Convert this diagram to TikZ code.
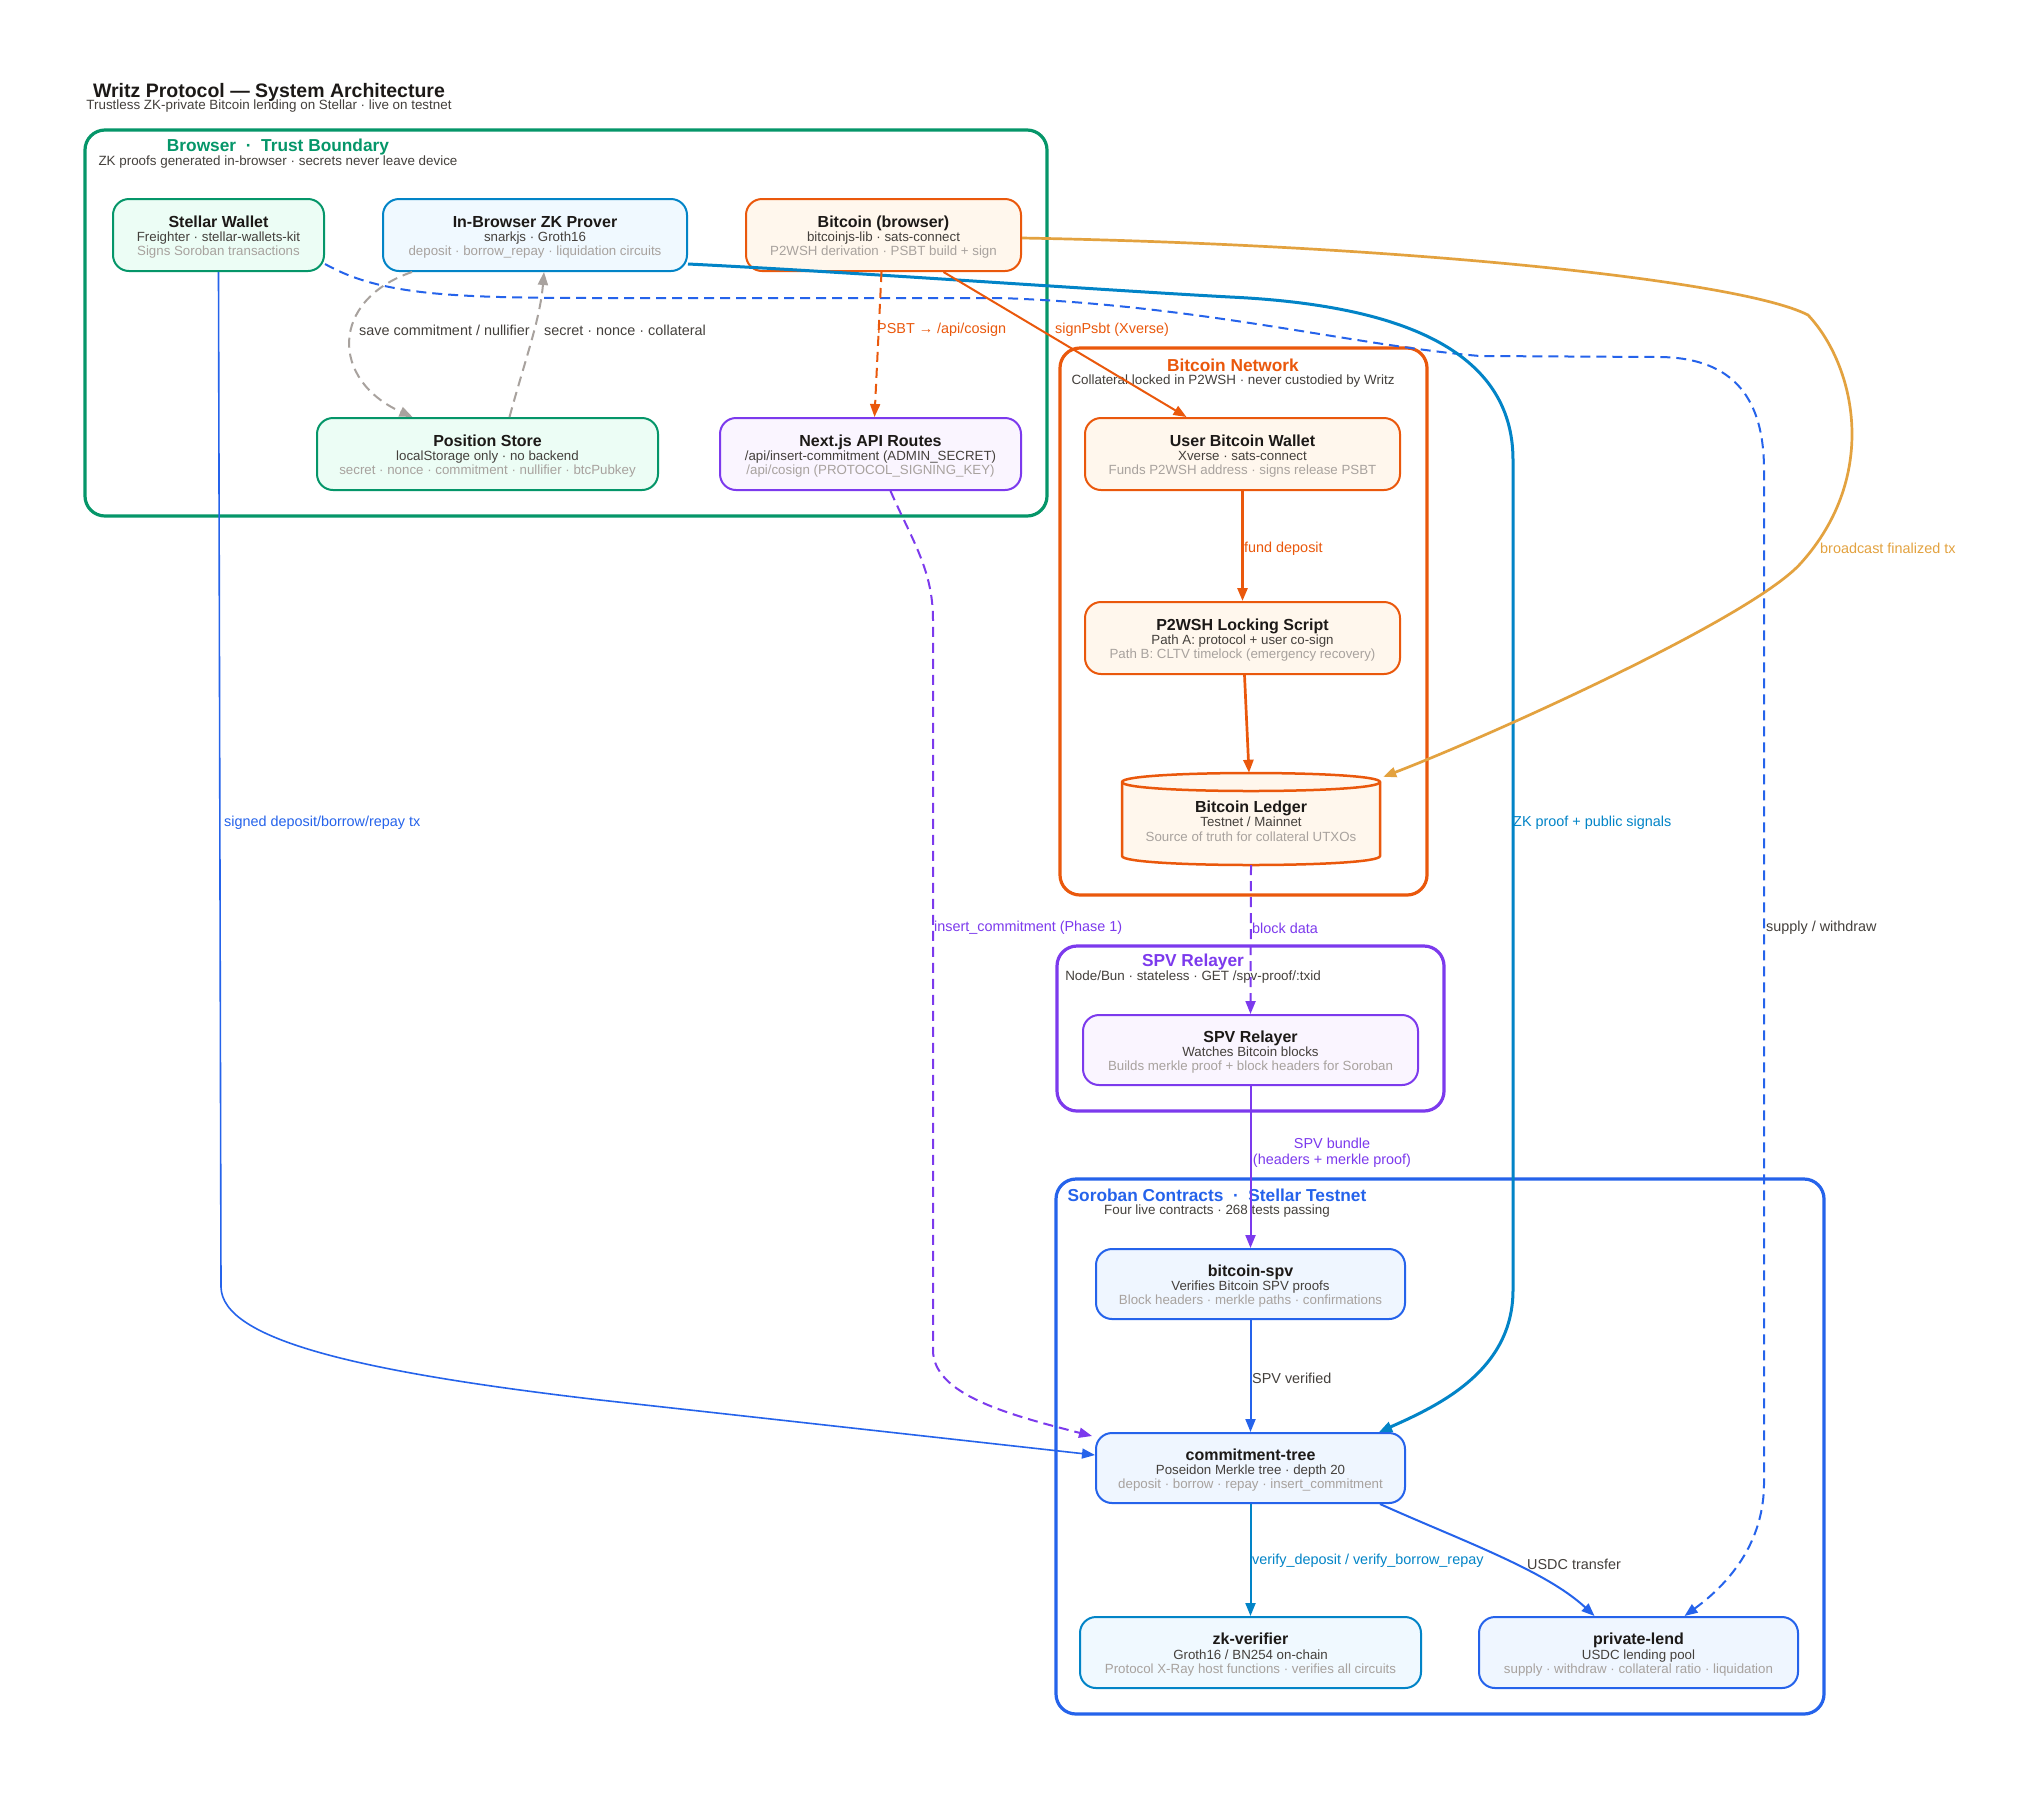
\documentclass[tikz,border=0pt]{standalone}
\usepackage{fontspec}
\setmainfont{Liberation Sans}
\usetikzlibrary{arrows.meta,calc}
\definecolor{cgreen}{HTML}{059669}
\definecolor{fgreen}{HTML}{ECFDF5}
\definecolor{csky}{HTML}{0284C7}
\definecolor{fsky}{HTML}{F0F9FF}
\definecolor{corange}{HTML}{EA580C}
\definecolor{forange}{HTML}{FFF7ED}
\definecolor{cpurple}{HTML}{7C3AED}
\definecolor{fpurple}{HTML}{FAF5FF}
\definecolor{cblue}{HTML}{2563EB}
\definecolor{fblue}{HTML}{EFF6FF}
\definecolor{camber}{HTML}{E3A23F}
\definecolor{cgray}{HTML}{A8A29E}
\definecolor{tdark}{HTML}{1C1917}
\definecolor{tmid}{HTML}{44403C}
\definecolor{tlight}{HTML}{A8A29E}
\newcommand\boxtxt[3]{{\fontsize{16}{14.3}\selectfont\bfseries\color{tdark}\rule{0pt}{15.8pt}#1}\\#2\\{\color{tlight}#3}}
\begin{document}
\begin{tikzpicture}[x=1pt,y=-1pt,
  box/.style={rounded corners=16pt, line width=2pt, minimum height=72pt, align=center, inner sep=0pt, font=\fontsize{13.3}{14.3}\selectfont, text=tmid},
  cluster/.style={rounded corners=20pt, line width=3.2pt, fill=white},
  ctitle/.style={font=\fontsize{17.3}{20}\selectfont\bfseries, inner sep=0pt},
  csub/.style={font=\fontsize{13.4}{15}\selectfont, text=tmid, inner sep=0pt},
  conn/.style={line width=2pt, -{Triangle[length=13pt,width=10pt]}},
  dsh/.style={dash pattern=on 10pt off 6pt},
  lbl/.style={font=\fontsize{14.4}{16}\selectfont, anchor=west, inner sep=0pt, yshift=-2pt},
]
\useasboundingbox (0,0) rectangle (2031,1800);
\fill[white] (0,0) rectangle (2031,1800);

% title
\node[font=\fontsize{19.5}{22}\selectfont\bfseries, text=tdark, inner sep=0pt] (title) at (269,92.5) {Writz Protocol — System Architecture};
\node[font=\fontsize{13.4}{15}\selectfont, text=tmid, inner sep=0pt] (subtitle) at (269,106.5) {Trustless ZK-private Bitcoin lending on Stellar · live on testnet};

% clusters
\draw[cluster, draw=cgreen] (85,130) rectangle (1047,516);
\node[ctitle, text=cgreen] (browsert) at (278,147) {Browser\ \ ·\ \ Trust Boundary};
\node[csub] (browsers) at (278,162.5) {ZK proofs generated in-browser · secrets never leave device};

\draw[cluster, draw=corange] (1060,348) rectangle (1427,895);
\node[ctitle, text=corange] (btcnt) at (1233,365) {Bitcoin Network};
\node[csub] (btcns) at (1233,381) {Collateral locked in P2WSH · never custodied by Writz};

\draw[cluster, draw=cpurple] (1057,946) rectangle (1444,1111);
\node[ctitle, text=cpurple] (spvt) at (1193,962) {SPV Relayer};
\node[csub] (spvs) at (1193,977) {Node/Bun · stateless · GET /spv-proof/:txid};

\draw[cluster, draw=cblue] (1056,1179) rectangle (1824,1714);
\node[ctitle, text=cblue] (sorot) at (1217,1195) {Soroban Contracts\ \ ·\ \ Stellar Testnet};
\node[csub] (soros) at (1217,1211) {Four live contracts · 268 tests passing};

% ledger cylinder
\path[draw=corange, fill=forange, line width=2.5pt]
  (1122,782) -- (1122,856) .. controls (1122,868) and (1380,868) .. (1380,856)
  -- (1380,782) .. controls (1380,770) and (1122,770) .. (1122,782) -- cycle;
\draw[corange, line width=2.5pt] (1122,782) .. controls (1122,794) and (1380,794) .. (1380,782);

% nodes
\node[box, draw=cgreen, fill=fgreen, minimum width=211pt] (sw) at (218.5,235) {\boxtxt{Stellar Wallet}{Freighter · stellar-wallets-kit}{Signs Soroban transactions}};
\node[box, draw=csky, fill=fsky, minimum width=304pt] (zk) at (535,235) {\boxtxt{In-Browser ZK Prover}{snarkjs · Groth16}{deposit · borrow\_repay · liquidation circuits}};
\node[box, draw=corange, fill=forange, minimum width=275pt] (bb) at (883.5,235) {\boxtxt{Bitcoin (browser)}{bitcoinjs-lib · sats-connect}{P2WSH derivation · PSBT build + sign}};
\node[box, draw=cgreen, fill=fgreen, minimum width=341pt] (ps) at (487.5,454) {\boxtxt{Position Store}{localStorage only · no backend}{secret · nonce · commitment · nullifier · btcPubkey}};
\node[box, draw=cpurple, fill=fpurple, minimum width=301pt] (nx) at (870.5,454) {\boxtxt{Next.js API Routes}{/api/insert-commitment (ADMIN\_SECRET)}{/api/cosign (PROTOCOL\_SIGNING\_KEY)}};
\node[box, draw=corange, fill=forange, minimum width=315pt] (ubw) at (1242.5,454) {\boxtxt{User Bitcoin Wallet}{Xverse · sats-connect}{Funds P2WSH address · signs release PSBT}};
\node[box, draw=corange, fill=forange, minimum width=315pt] (p2) at (1242.5,638) {\boxtxt{P2WSH Locking Script}{Path A: protocol + user co-sign}{Path B: CLTV timelock (emergency recovery)}};
\node[align=center, inner sep=0pt, minimum width=258pt, minimum height=92pt, font=\fontsize{13.3}{14.3}\selectfont, text=tmid] (ledger) at (1251,819) {\raisebox{-6pt}{\parbox{258pt}{\centering\boxtxt{Bitcoin Ledger}{Testnet / Mainnet}{Source of truth for collateral UTXOs}}}};
\node[box, draw=cpurple, fill=fpurple, minimum width=335pt, minimum height=70pt] (spv) at (1250.5,1050) {\boxtxt{SPV Relayer}{Watches Bitcoin blocks}{Builds merkle proof + block headers for Soroban}};
\node[box, draw=cblue, fill=fblue, minimum width=309pt, minimum height=70pt] (bspv) at (1250.5,1284) {\boxtxt{bitcoin-spv}{Verifies Bitcoin SPV proofs}{Block headers · merkle paths · confirmations}};
\node[box, draw=cblue, fill=fblue, minimum width=309pt, minimum height=70pt] (ct) at (1250.5,1468) {\boxtxt{commitment-tree}{Poseidon Merkle tree · depth 20}{deposit · borrow · repay · insert\_commitment}};
\node[box, draw=csky, fill=fsky, minimum width=341pt, minimum height=71pt] (zkv) at (1250.5,1652.5) {\boxtxt{zk-verifier}{Groth16 / BN254 on-chain}{Protocol X-Ray host functions · verifies all circuits}};
\node[box, draw=cblue, fill=fblue, minimum width=319pt, minimum height=71pt] (pl) at (1638.5,1652.5) {\boxtxt{private-lend}{USDC lending pool}{supply · withdraw · collateral ratio · liquidation}};

% edges
\draw[conn, cblue, line width=1.6pt] (sw.south) -- (221,1287) .. controls (222,1340) and (360,1372) .. (600,1400) -- ([yshift=13pt]ct.west);
\node[lbl, text=cblue] (l1) at (224,821) {signed deposit/borrow/repay tx};

\draw[conn, dsh, cblue] ([yshift=-29pt]sw.east) .. controls (380,295) and (450,298) .. (600,298) -- (1000,298) .. controls (1200,305) and (1350,345) .. (1480,356) -- (1660,357) .. controls (1735,358) and (1764,400) .. (1764,470) -- (1764,1483) .. controls (1764,1550) and (1720,1590) .. ([xshift=46pt]pl.north);
\node[lbl, text=tmid] (l2) at (1766,926) {supply / withdraw};

\draw[conn, csky, line width=3pt] ([yshift=-29pt]zk.east) .. controls (850,272) and (1100,290) .. (1230,297) .. controls (1400,305) and (1513,350) .. (1513,460) -- (1513,1290) .. controls (1513,1370) and (1440,1405) .. ([xshift=-27pt]ct.north east);
\node[lbl, text=csky] (l3) at (1513,821) {ZK proof + public signals};

\draw[conn, cgray, dsh] ([xshift=-123pt]zk.south) .. controls (330,300) and (330,380) .. ([xshift=-75pt]ps.north);
\node[lbl, text=tmid] (l4) at (359,328) {save commitment / nullifier};
\draw[conn, cgray, dsh] ([xshift=22pt]ps.north) .. controls (525,360) and (540,320) .. ([xshift=9pt]zk.south);
\node[lbl, text=tmid] (l5) at (544,328) {secret · nonce · collateral};

\draw[conn, corange, dsh] ([xshift=-2pt]bb.south) -- ([xshift=4pt]nx.north);
\node[lbl, text=corange] (l6) at (877,328) {PSBT → /api/cosign};

\draw[conn, corange] ([xshift=60pt]bb.south) -- ([xshift=-56pt]ubw.north);
\node[lbl, text=corange] (l7) at (1055,328) {signPsbt (Xverse)};

\draw[conn, camber, line width=2.7pt] ([yshift=-3pt]bb.east) .. controls (1400,245) and (1740,280) .. (1808,315) .. controls (1855,365) and (1880,475) .. (1801,563) .. controls (1751,619) and (1480,740) .. ([xshift=3pt,yshift=-4pt]ledger.north east);
\node[lbl, text=camber] (l8) at (1820,546) {broadcast finalized tx};

\draw[conn, cpurple, dsh] ([xshift=20pt]nx.south) .. controls (912,540) and (933,570) .. (933,620) -- (933,1350) .. controls (933,1395) and (1010,1415) .. ([xshift=-3pt,yshift=-4pt]ct.north west);
\node[lbl, text=cpurple] (l9) at (934,926) {insert\_commitment (Phase 1)};

\draw[conn, corange, line width=2.7pt] (ubw.south) -- (p2.north);
\node[lbl, text=corange] (l10) at (1244,547) {fund deposit};
\draw[conn, corange, line width=2.7pt] ([xshift=2pt]p2.south) -- ([xshift=-2pt]ledger.north);

\draw[conn, cpurple, dsh] (ledger.south) -- (spv.north);
\node[lbl, text=cpurple] (l11) at (1252,926) {block data};

\draw[conn, cpurple] (spv.south) -- (bspv.north);
\node[font=\fontsize{14.4}{16.5}\selectfont, text=cpurple, align=center, inner sep=0pt] (l12) at (1332,1153) {SPV bundle\\(headers + merkle proof)};

\draw[conn, cblue] (bspv.south) -- (ct.north);
\node[lbl, text=tmid] (l13) at (1252,1376) {SPV verified};

\draw[conn, csky] (ct.south) -- (zkv.north);
\node[lbl, text=csky] (l14) at (1252,1559) {verify\_deposit / verify\_borrow\_repay};

\draw[conn, cblue] ([xshift=-26pt]ct.south east) .. controls (1460,1540) and (1545,1570) .. ([xshift=-44pt]pl.north);
\node[lbl, text=tmid] (l15) at (1527,1562) {USDC transfer};
\end{tikzpicture}
\end{document}
